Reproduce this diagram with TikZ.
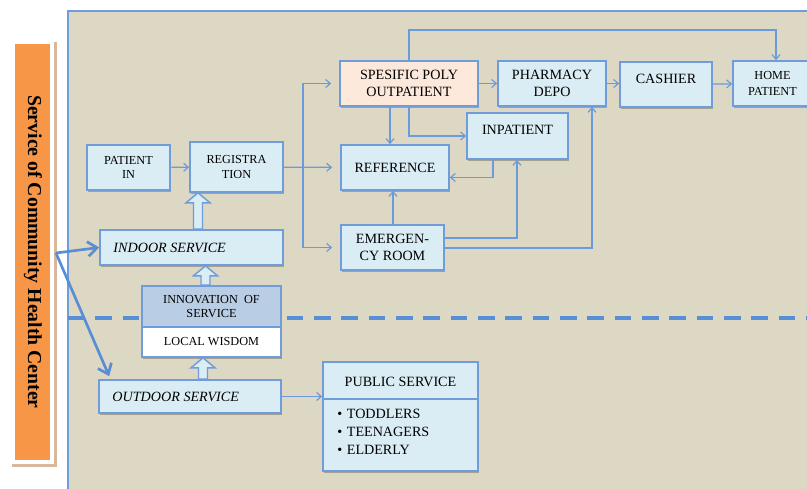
\documentclass[tikz,border=0pt]{standalone}
\usepackage{fontspec}
\setmainfont{Liberation Serif}
\usetikzlibrary{calc,arrows.meta,shadows}

\definecolor{panel}{HTML}{DDD8C3}
\definecolor{boxfill}{HTML}{DBEDF4}
\definecolor{boxline}{RGB}{112,157,218}
\definecolor{connline}{RGB}{108,155,220}
\definecolor{feedblue}{RGB}{88,142,214}
\definecolor{peach}{HTML}{FCE9DC}
\definecolor{innovfill}{HTML}{B9CDE5}
\definecolor{orangebar}{HTML}{F79646}
\definecolor{tanshade}{HTML}{D8B89C}

\newcommand{\labelbig}{\fontsize{10.6}{12.4}\selectfont}
\newcommand{\labelsmall}{\fontsize{9.2}{10.6}\selectfont}
\newcommand{\blockup}[3]{%
  \draw[hollow] ($(#1,0 |- #2.north)+(-4.5,0)$) -- ($(#1,0 |- #3.south)+(-4.5,10)$)
    -- ++(-7.5,0) -- (#1,0 |- #3.south) -- ($(#1,0 |- #3.south)+(12,10)$)
    -- ++(-7.5,0) -- ($(#1,0 |- #2.north)+(4.5,0)$) -- cycle;}

\begin{document}
\begin{tikzpicture}[x=0.75pt,y=-0.75pt]
\tikzset{
  box/.style={draw=boxline, line width=1.2pt, fill=boxfill, inner sep=0pt,
    align=center, font=\labelbig, minimum height=33.75pt,
    drop shadow={shadow xshift=1pt, shadow yshift=-1.2pt, fill=black, opacity=0.25}},
  conn/.style={draw=connline, line width=0.9pt, -{Straight Barb[length=3.5pt,width=6pt]}},
  hollow/.style={draw=boxline, line width=1.1pt, fill=boxfill},
  feed/.style={draw=feedblue, line width=2pt, -{Straight Barb[length=7pt,width=11pt]}},
  dashline/.style={draw=feedblue, line width=2.6pt, dash pattern=on 12.5pt off 8pt}
}
\useasboundingbox (0,0) rectangle (807,489);
% Panel
\fill[panel] (68,11) rectangle (807,489);
\draw[boxline, line width=1.2pt] (68,489) -- (68,11) -- (807,11);
\draw[dashline] (68,318) -- (807,318);
% Side bar
\fill[tanshade] (12,42) rectangle (57,467);
\fill[white] (10,40) rectangle (54,464);
\fill[orangebar] (15,44) rectangle (50,460);
\node[rotate=-90, font=\fontsize{14.8}{16}\selectfont\bfseries] (title) at (33,252)
  {Service of Community Health Center};

% Indoor side
\node[box, line width=2pt, font=\labelsmall, minimum width=62.25pt] (patin) at (128.5,167.5) {PATIENT\\IN};
\node[box, font=\labelsmall, minimum width=69.75pt, minimum height=37.5pt] (reg) at (236.5,167) {REGISTRA\\TION};
\node[box, minimum width=137.25pt, minimum height=26.25pt] (indoor) at (191.5,247.5) {};
\node[font=\labelbig\itshape, anchor=west, inner sep=0pt] (indoortext)
  at ([xshift=10.5pt]indoor.west) {INDOOR SERVICE};
\node[box, fill=innovfill, font=\labelsmall, minimum width=104.25pt, minimum height=30.75pt] (innov)
  at (211.5,306.5) {INNOVATION~~OF\\SERVICE};
\node[box, fill=white, font=\labelsmall, minimum width=104.25pt, minimum height=22.5pt] (wisdom)
  at (211.5,342) {LOCAL WISDOM};
\node[box, minimum width=136.5pt, minimum height=24.75pt] (outdoor) at (190,396.5) {};
\node[font=\labelbig\itshape, anchor=west, inner sep=0pt] (outdoortext)
  at ([xshift=10.5pt]outdoor.west) {OUTDOOR SERVICE};

% Hospital units
\node[box, fill=peach, minimum width=103.5pt] (spo) at (409,83.5) {SPESIFIC POLY\\OUTPATIENT};
\node[box, minimum width=81pt] (pharm) at (552,83.5) {PHARMACY\\DEPO};
\node[box, minimum width=69pt, text depth=9pt] (cash) at (666,84.5) {CASHIER};
\node[box, font=\fontsize{9.2}{12.6}\selectfont, minimum width=59.25pt] (home) at (772.5,83.5) {HOME\\PATIENT};
\node[box, minimum width=75.75pt, minimum height=34.5pt, text depth=9pt] (inp) at (517.5,136) {INPATIENT};
\node[box, minimum width=81pt] (ref) at (395,167.5) {REFERENCE};
\node[box, minimum width=77.25pt] (er) at (392.5,247.5) {EMERGEN-\\CY ROOM};

% Public service
\node[box, minimum width=116.25pt, minimum height=81.75pt] (pub) at (400.5,416.5) {};
\draw[boxline, line width=1pt] (pub.west |- 0,399) -- (pub.east |- 0,399);
\node[font=\labelbig] (pubtitle) at (400.5,381.5) {PUBLIC SERVICE};
\node[font=\fontsize{10.6}{13.5}\selectfont, align=left, anchor=west, inner sep=0pt] (pubgroups)
  at (337,432) {\textbullet\hspace{3.5pt}TODDLERS\\\textbullet\hspace{3.5pt}TEENAGERS\\\textbullet\hspace{3.5pt}ELDERLY};

% Feeds from the side bar
\coordinate (hub) at (56,253);
\draw[feed] (hub) -- (indoor.west);
\draw[feed] (hub) -- ($(outdoor.north west)+(11,-3)$);

% Hollow arrows
\blockup{198}{indoor}{reg}
\blockup{205.5}{innov}{indoor}
\blockup{203}{outdoor}{wisdom}

% Flow
\coordinate (split) at (303,0 |- reg.east);
\draw[conn] (patin) -- (reg);
\draw[conn, shorten >=6pt] (reg) -- (ref);
\draw[conn, shorten >=6pt] (split) |- (spo.west);
\draw[conn, shorten >=6pt] (split) |- (er.west);
\draw[conn] (spo) -- (pharm);
\draw[conn] (pharm.east) -- (cash.west |- pharm.east);
\draw[conn] (cash) -- (home);
\draw[conn] (spo.south -| 390,0) -- (ref.north -| 390,0);
\draw[conn] (spo.south -| 409,0) |- (inp.west);
\draw[conn] (spo.north -| 409,0) |- (776,30) -- (home.north -| 776,0);
\draw[conn] (inp.south -| 493,0) |- ($(ref.east)+(0,10)$);
\draw[conn] (er.north -| 393,0) -- (ref.south -| 393,0);
\draw[conn] (er.east |- 0,238) -| (inp.south -| 517,0);
\draw[conn] (er.east |- 0,248) -| (pharm.south -| 592,0);
\draw[conn] (outdoor.east) -- (outdoor.east -| pub.west);
\end{tikzpicture}
\end{document}
